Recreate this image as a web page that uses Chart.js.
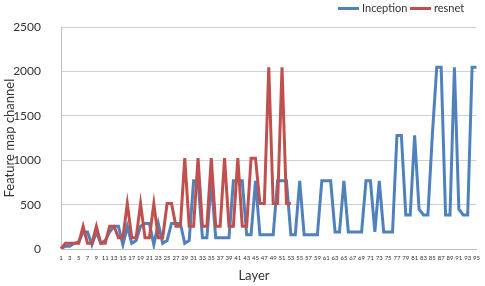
<!DOCTYPE html>
<html>
<head>
<meta charset="utf-8">
<script src="https://cdn.jsdelivr.net/npm/chart.js@4.4.1/dist/chart.umd.min.js"></script>
<style>
  html, body { margin: 0; padding: 0; background: #fff; }
  #wrap { width: 485px; height: 286px; position: relative; font-family: Lato, "Open Sans", "Liberation Sans", sans-serif; color: #333; }
  .leg { position: absolute; top: 1px; height: 14px; line-height: 14px; font-size: 11px; white-space: nowrap; }
  .leg i { display: inline-block; width: 21px; height: 3px; vertical-align: middle; margin-right: 3px; position: relative; top: -1px; }
  #xtitle { position: absolute; top: 267px; left: 0; width: 508px; text-align: center; font-size: 13px; line-height: 16px; }
</style>
</head>
<body>
<div id="wrap">
  <canvas id="chart"></canvas>
  <div class="leg" style="left:338px"><i style="background:#4f81bd"></i>Inception</div>
  <div class="leg" style="left:410px"><i style="background:#c0504d"></i>resnet</div>
  <div id="xtitle">Layer</div>
</div>
<script>
'use strict';

// layer index 1..95
var LAYERS = [
   1,  2,  3,  4,  5,  6,  7,  8,  9, 10, 11, 12, 13, 14, 15, 16, 17, 18, 19, 20,
  21, 22, 23, 24, 25, 26, 27, 28, 29, 30, 31, 32, 33, 34, 35, 36, 37, 38, 39, 40,
  41, 42, 43, 44, 45, 46, 47, 48, 49, 50, 51, 52, 53, 54, 55, 56, 57, 58, 59, 60,
  61, 62, 63, 64, 65, 66, 67, 68, 69, 70, 71, 72, 73, 74, 75, 76, 77, 78, 79, 80,
  81, 82, 83, 84, 85, 86, 87, 88, 89, 90, 91, 92, 93, 94, 95
];

// only odd layers get a label on the x axis
var X_TICKS = [
   1,  3,  5,  7,  9, 11, 13, 15, 17, 19, 21, 23, 25, 27, 29, 31, 33, 35, 37, 39,
  41, 43, 45, 47, 49, 51, 53, 55, 57, 59, 61, 63, 65, 67, 69, 71, 73, 75, 77, 79,
  81, 83, 85, 87, 89, 91, 93, 95
];

var INCEPTION = [
  3, 32, 32, 64, 80,
  192, 192, 48, 192, 64, 96, 192,
  256, 256, 48, 256, 64, 96, 256,
  288, 288, 48, 288, 64, 96, 288,
  288, 288, 64, 96,
  768, 768, 128, 128, 768, 128, 128, 128, 128, 768,
  768, 768, 160, 160, 768, 160, 160, 160, 160, 768,
  768, 768, 160, 160, 768, 160, 160, 160, 160, 768,
  768, 768, 192, 192, 768, 192, 192, 192, 192, 768,
  768, 192, 768, 192, 192, 192,
  1280, 1280, 384, 384, 1280, 448, 384, 384, 1280,
  2048, 2048, 384, 384, 2048, 448, 384, 384, 2048,
  2048
];

var RESNET = [
  3,
  64, 64, 64, 64, 256, 64, 64, 256, 64, 64,
  256, 256, 128, 128, 512, 128, 128, 512, 128, 128, 512, 128, 128,
  512, 512, 256, 256, 1024, 256, 256, 1024, 256, 256, 1024, 256, 256,
  1024, 256, 256, 1024, 256, 256,
  1024, 1024, 512, 512, 2048, 512, 512, 2048, 512, 512
];

var Y_MAX  = 2500;
var Y_STEP = 500;

var FONT = 'Lato, "Open Sans", "Liberation Sans", sans-serif';
var BLUE = '#4f81bd';
var RED  = '#c0504d';
var GRID = '#d0d0d0';
var TEXT = '#333333';

new Chart(document.getElementById('chart').getContext('2d'), {
  type: 'line',
  data: {
    labels: LAYERS,
    datasets: [
      { label: 'Inception', data: INCEPTION, borderColor: BLUE, backgroundColor: BLUE,
        borderWidth: 3, pointRadius: 0, tension: 0, fill: false, order: 2 },
      { label: 'resnet', data: RESNET, borderColor: RED, backgroundColor: RED,
        borderWidth: 3, pointRadius: 0, tension: 0, fill: false, order: 1 }
    ]
  },
  options: {
    responsive: true,
    maintainAspectRatio: false,
    animation: false,
    layout: { padding: { top: 20, right: 7, bottom: 0, left: 0 } },
    plugins: {
      tooltip: { enabled: false },
      legend: { display: false }   // drawn as html above the canvas
    },
    scales: {
      x: {
        offset: false,
        grid: { display: false, drawTicks: false },
        border: { display: true, color: '#bfbfbf', width: 1 },
        ticks: {
          autoSkip: false,
          maxRotation: 0,
          minRotation: 0,
          padding: 5,
          color: TEXT,
          font: { family: FONT, size: 6 },
          callback: function (val, idx) {
            var v = LAYERS[idx];
            return X_TICKS.indexOf(v) >= 0 ? String(v) : '';
          }
        },
        afterFit: function (s) { s.height = 37; }
      },
      y: {
        min: 0,
        max: Y_MAX,
        grid: { color: GRID, drawTicks: false },
        border: { display: true, color: '#bfbfbf', width: 1 },
        ticks: {
          stepSize: Y_STEP,
          padding: 20,
          color: TEXT,
          font: { family: FONT, size: 12 },
          callback: function (v) { return String(v); }
        },
        title: {
          display: true, text: 'Feature map channel', color: TEXT,
          font: { family: FONT, size: 13 },
          padding: { top: 2, bottom: 0 }
        },
        afterFit: function (s) { s.width = 61; }
      }
    }
  }
});
</script>
</body>
</html>
